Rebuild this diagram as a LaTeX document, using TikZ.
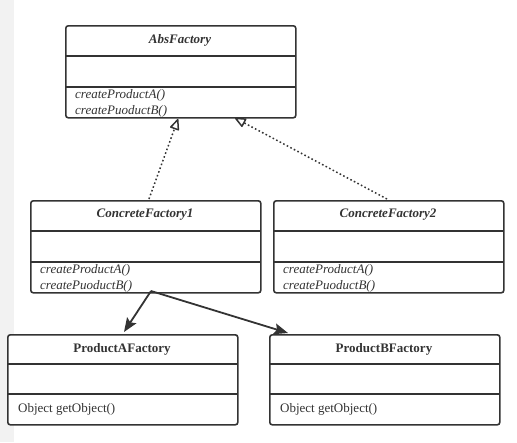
\documentclass[tikz,border=0pt]{standalone}
\usepackage{fontspec}
\setmainfont{Liberation Serif}
\usetikzlibrary{arrows.meta}
\definecolor{ln}{HTML}{333333}
\definecolor{strip}{HTML}{F2F2F2}
\begin{document}
\begin{tikzpicture}[x=1pt,y=-1pt,
  umlbox/.style={draw=ln, line width=1.6pt, rounded corners=2.5pt, fill=white, anchor=north west, minimum width=230pt, inner sep=0pt},
  divider/.style={draw=ln, line width=1.6pt},
  ttl/.style={font=\fontsize{13}{15}\selectfont\bfseries\itshape, text=ln, inner sep=0pt},
  ttlb/.style={font=\fontsize{13}{15}\selectfont\bfseries, text=ln, inner sep=0pt},
  meth/.style={font=\fontsize{13}{15}\selectfont\itshape, text=ln, anchor=west, inner sep=0pt},
  methr/.style={font=\fontsize{13}{15}\selectfont, text=ln, anchor=west, inner sep=0pt},
  realize/.style={draw=ln, line width=1.5pt, dash pattern=on 1.6pt off 2.4pt, -{Triangle[open, width=10pt, length=12pt, line width=1.5pt, round]}},
  assoc/.style={draw=ln, line width=1.8pt, -{Stealth[width=11pt, length=14pt, inset=2.5pt]}}
]
\useasboundingbox (0,0) rectangle (517,442);
\fill[strip] (0,0) rectangle (14,442);

% AbsFactory
\node[umlbox, minimum height=92pt] (abs) at (65,25) {};
\draw[divider] (65,56) -- (295,56);
\draw[divider] (65,87) -- (295,87);
\node[ttl] (absT) at (180,40) {AbsFactory};
\node[meth] (absM1) at (75,95) {createProductA()};
\node[meth] (absM2) at (75,111) {createPuoductB()};

% ConcreteFactory1
\node[umlbox, minimum height=92pt] (cf1) at (30,200) {};
\draw[divider] (30,231) -- (260,231);
\draw[divider] (30,262) -- (260,262);
\node[ttl] (cf1T) at (145,215) {ConcreteFactory1};
\node[meth] (cf1M1) at (40,270) {createProductA()};
\node[meth] (cf1M2) at (40,286) {createPuoductB()};

% ConcreteFactory2
\node[umlbox, minimum height=92pt] (cf2) at (273,200) {};
\draw[divider] (273,231) -- (503,231);
\draw[divider] (273,262) -- (503,262);
\node[ttl] (cf2T) at (388,215) {ConcreteFactory2};
\node[meth] (cf2M1) at (283,270) {createProductA()};
\node[meth] (cf2M2) at (283,286) {createPuoductB()};

% ProductAFactory
\node[umlbox, minimum height=90pt] (pa) at (7,334) {};
\draw[divider] (7,364) -- (237,364);
\draw[divider] (7,394) -- (237,394);
\node[ttlb] (paT) at (122,349) {ProductAFactory};
\node[methr] (paM) at (18,409) {Object getObject()};

% ProductBFactory
\node[umlbox, minimum height=90pt] (pb) at (269,334) {};
\draw[divider] (269,364) -- (499,364);
\draw[divider] (269,394) -- (499,394);
\node[ttlb] (pbT) at (384,349) {ProductBFactory};
\node[methr] (pbM) at (280,409) {Object getObject()};

% connector end points
\coordinate (cf1top) at (149,199);
\coordinate (cf2top) at (387,199);
\coordinate (absA) at (178,119);
\coordinate (absB) at (235,118);
\coordinate (cf1bot) at (151,291);
\coordinate (paTop) at (124,332);
\coordinate (pbTop) at (288,333);

\draw[realize] (cf1top) -- (absA);
\draw[realize] (cf2top) -- (absB);
\draw[assoc] (cf1bot) -- (paTop);
\draw[assoc] (cf1bot) -- (pbTop);
\end{tikzpicture}
\end{document}
